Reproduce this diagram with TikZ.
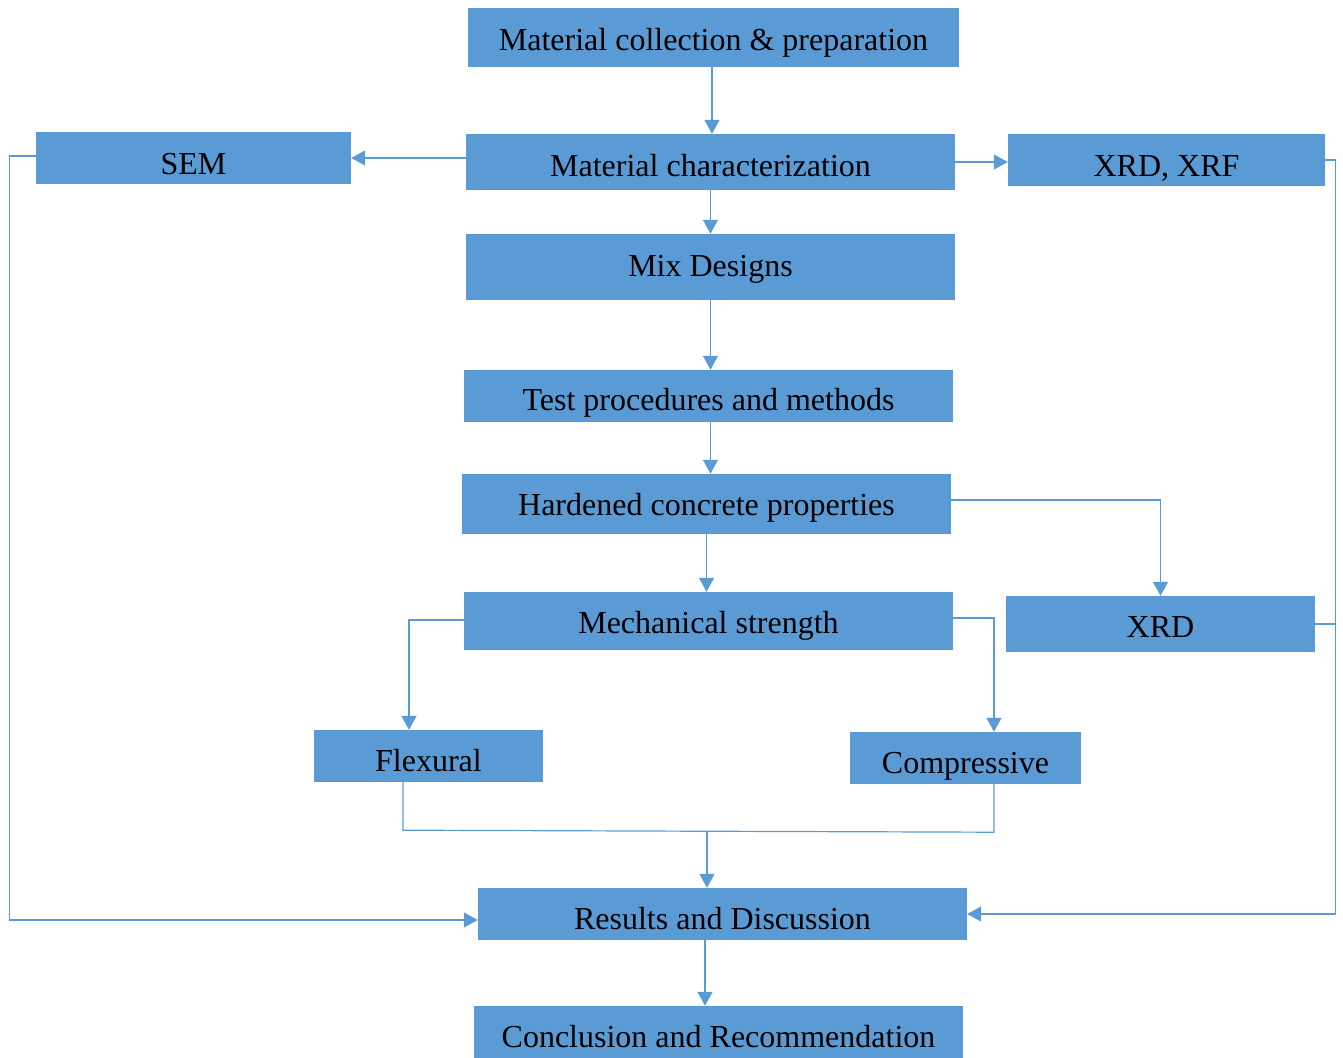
\documentclass[tikz,border=0pt]{standalone}
\usepackage{fontspec}
\setmainfont{Liberation Serif}
\usetikzlibrary{arrows.meta}
\definecolor{boxblue}{HTML}{5B9BD5}
\newcommand{\lowtxt}[2][6pt]{\raisebox{-#1}[\height][\depth]{#2}}
\begin{document}
\begin{tikzpicture}[x=1pt,y=-1pt,
  box/.style={fill=boxblue, draw=none, inner sep=0pt, font=\fontsize{32}{36}\selectfont, text=black},
  conn/.style={draw=boxblue, line width=1.2pt, -{Triangle[length=14pt,width=15pt]}},
  plain/.style={draw=boxblue, line width=1.2pt}]
\useasboundingbox (0,0) rectangle (1343,1057);
\node[box, minimum width=491pt, minimum height=59pt] (mcp) at (713.5,37.5) {\lowtxt[5pt]{Material collection \& preparation}};
\node[box, minimum width=315pt, minimum height=52pt] (sem) at (193.5,158) {\lowtxt{SEM}};
\node[box, minimum width=489pt, minimum height=56pt] (mc) at (710.5,162) {\lowtxt[4pt]{Material characterization}};
\node[box, minimum width=317pt, minimum height=52pt] (xrf) at (1166.5,160) {\lowtxt[8pt]{XRD, XRF}};
\node[box, minimum width=489pt, minimum height=66pt] (mix) at (710.5,267) {\lowtxt[2pt]{Mix Designs}};
\node[box, minimum width=489pt, minimum height=52pt] (tp) at (708.5,396) {\lowtxt[7pt]{Test procedures and methods}};
\node[box, minimum width=489pt, minimum height=60pt] (hc) at (706.5,504) {\lowtxt[4pt]{Hardened concrete properties}};
\node[box, minimum width=489pt, minimum height=58pt] (ms) at (708.5,621) {\lowtxt[5pt]{Mechanical strength}};
\node[box, minimum width=309pt, minimum height=56pt] (xrd) at (1160.5,624) {\lowtxt[3pt]{XRD}};
\node[box, minimum width=229pt, minimum height=52pt] (flex) at (428.5,756) {\lowtxt[5pt]{Flexural}};
\node[box, minimum width=231pt, minimum height=52pt] (comp) at (965.5,758) {\lowtxt[8pt]{Compressive}};
\node[box, minimum width=489pt, minimum height=52pt] (res) at (722.5,914) {\lowtxt[5pt]{Results and Discussion}};
\node[box, minimum width=489pt, minimum height=52pt] (conc) at (718.5,1032) {\lowtxt[5pt]{Conclusion and Recommendation}};
\coordinate (j) at (707,831);
% connectors
\draw[conn] (mcp.south -| mc.north) ++(1.5,0) -- ([xshift=1.5pt]mc.north);
\draw[conn] (mc.west |- sem.east) -- (sem.east);
\draw[conn] (mc.east) -- (mc.east -| xrf.west);
\draw[conn] (mc.south) -- (mix.north);
\draw[conn] (mix.south) -- (mix.south |- tp.north);
\draw[conn] ([xshift=2pt]tp.south) -- ([xshift=2pt]tp.south |- hc.north);
\draw[conn] (hc.south) -- (hc.south |- ms.north);
\draw[conn] ([yshift=4pt]hc.east) -| (xrd.north);
\draw[conn] ([yshift=1pt]ms.west) -| ([xshift=-19.5pt]flex.north);
\draw[conn] ([yshift=3pt]ms.east) -| ([xshift=28.5pt]comp.north);
\draw[plain] ([xshift=-25.5pt]flex.south) -- ++(0,48) -- ([xshift=28.5pt,yshift=-48pt]comp.south) -- ([xshift=28.5pt]comp.south);
\draw[conn] (j) -- (j |- res.north);
\draw[conn] ([yshift=2pt]sem.west) -- ++(-26,0) |- ([yshift=-6pt]res.west);
\draw[conn] (xrf.east) -- ++(10,0) |- (res.east);
\draw[plain] (xrd.east) -- ++(20,0);
\draw[conn] ([xshift=-17.5pt]res.south) -- ([xshift=-13.5pt]conc.north);
\end{tikzpicture}
\end{document}
